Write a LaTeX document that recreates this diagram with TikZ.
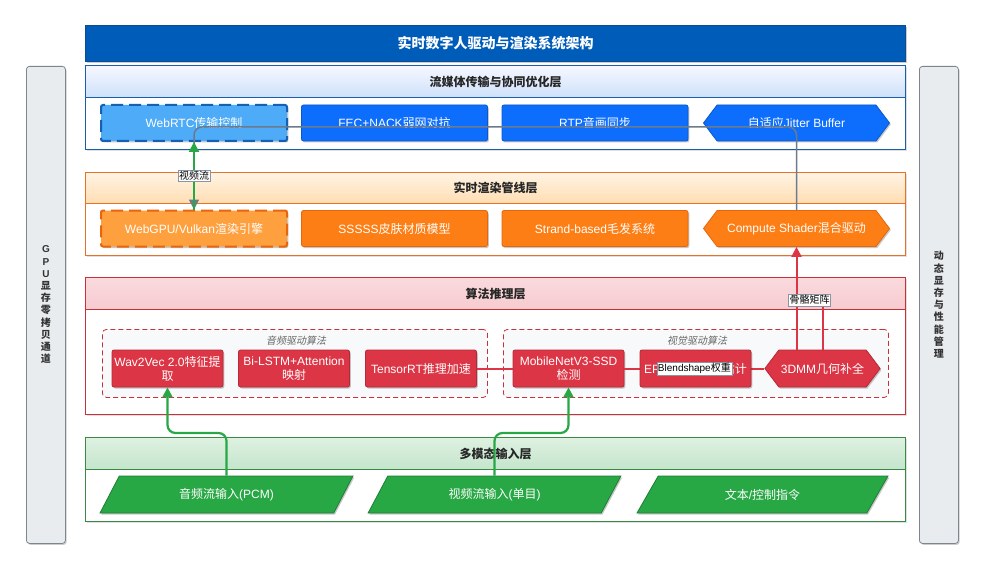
\documentclass[tikz,border=0pt]{standalone}
\usepackage{fontspec}
\setmainfont{Liberation Sans}
\newfontfamily\cjkfam{Noto Sans CJK SC}[NFSSFamily=cjk,ItalicFont=Noto Sans CJK SC,ItalicFeatures={FakeSlant=0.2}]
\XeTeXinterchartokenstate=1
\newXeTeXintercharclass\cjkcls
\count255="3000
\loop
  \XeTeXcharclass\count255=\cjkcls
  \ifnum\count255<"9FFF \advance\count255 by 1 \repeat
\count255="FF00
\loop
  \XeTeXcharclass\count255=\cjkcls
  \ifnum\count255<"FFEF \advance\count255 by 1 \repeat
\XeTeXinterchartoks 0 \cjkcls = {\fontfamily{cjk}\selectfont}
\XeTeXinterchartoks 4095 \cjkcls = {\fontfamily{cjk}\selectfont}
\XeTeXinterchartoks \cjkcls 0 = {\fontfamily{\familydefault}\selectfont}
\XeTeXinterchartoks \cjkcls 4095 = {\fontfamily{\familydefault}\selectfont}
\usetikzlibrary{shapes.geometric,shapes.symbols,arrows.meta,shadows,calc}
\definecolor{cTitle}{HTML}{005CB9}
\definecolor{cTitleD}{HTML}{0B4C94}
\definecolor{cB}{HTML}{0D6EFD}
\definecolor{cBD}{HTML}{0A58CA}
\definecolor{cBL}{HTML}{4DABF7}
\definecolor{cBDash}{HTML}{1360B4}
\definecolor{cO}{HTML}{FD7E14}
\definecolor{cOD}{HTML}{E8650C}
\definecolor{cOL}{HTML}{FFA03F}
\definecolor{cR}{HTML}{DC3545}
\definecolor{cRD}{HTML}{B52A37}
\definecolor{cG}{HTML}{28A745}
\definecolor{cGD}{HTML}{1E7E34}
\definecolor{cL1}{HTML}{1A5DAB}
\definecolor{cL2}{HTML}{E8712A}
\definecolor{cL3}{HTML}{C8313A}
\definecolor{cL4}{HTML}{3A8A45}
\definecolor{cSide}{HTML}{E9ECEF}
\definecolor{cSideD}{HTML}{7D868F}
\definecolor{cGray}{HTML}{6B7B8C}
\definecolor{cGrp}{HTML}{F8F9FA}
\begin{document}
\begin{tikzpicture}[x=1pt,y=-1pt,
  shad/.style={drop shadow={shadow xshift=1.3pt,shadow yshift=-1.5pt,opacity=0.22,fill=black}},
  nodetxt/.style={text=white,font=\fontsize{12}{14}\selectfont,align=center,inner sep=2pt},
  bigbox/.style={rectangle,rounded corners=2pt,minimum width=186pt,minimum height=36pt,line width=0.8pt,shad,nodetxt},
  hexbig/.style={signal,signal to=east and west,signal pointer angle=106,minimum width=186pt,minimum height=36pt,line width=0.8pt,shad,nodetxt},
  smallbox/.style={rectangle,rounded corners=2pt,minimum width=111pt,minimum height=37pt,line width=0.8pt,fill=cR,draw=cRD,shad,nodetxt},
  hexsmall/.style={signal,signal to=east and west,signal pointer angle=106,minimum width=111pt,minimum height=37pt,line width=0.8pt,fill=cR,draw=cRD,shad,nodetxt},
  para/.style={trapezium,trapezium left angle=62,trapezium right angle=118,trapezium stretches=true,minimum width=253pt,minimum height=37pt,fill=cG,draw=cGD,line width=0.8pt,shad,nodetxt},
  layerbody/.style={rectangle,fill=white,line width=1pt,minimum width=820pt,anchor=north west,inner sep=0pt,drop shadow={shadow xshift=1.5pt,shadow yshift=-1.5pt,opacity=0.12,fill=black}},
  layerhead/.style={rectangle,line width=1pt,minimum width=820pt,minimum height=32pt,anchor=north west,inner sep=0pt,font=\bfseries\fontsize{12}{14}\selectfont,text=black!85},
  side/.style={rectangle,rounded corners=3pt,fill=cSide,draw=cSideD,line width=0.8pt,minimum width=39pt,minimum height=477pt,anchor=north west,inner sep=0pt,font=\bfseries\fontsize{10}{12.2}\selectfont,align=center,text=black!80,drop shadow={shadow xshift=1.3pt,shadow yshift=-1.5pt,opacity=0.2,fill=black}},
  grp/.style={rectangle,rounded corners=4pt,fill=cGrp,draw=cL3,dash pattern=on 5pt off 3pt,line width=0.8pt,anchor=north west,inner sep=0pt},
  grplbl/.style={font=\itshape\fontsize{10}{12}\selectfont,text=black!60,inner sep=0pt},
  lbl/.style={fill=white,draw=cGray!80,line width=0.5pt,inner sep=1.2pt,font=\fontsize{10}{11}\selectfont,text=black},
  grayln/.style={draw=cGray,line width=1.5pt},
  greenln/.style={draw=cG,line width=2.2pt},
  redln/.style={draw=cR,line width=2pt},
  tip/.style={-{Triangle[length=10pt,width=10pt]}}
]
\path[use as bounding box,fill=white] (0,0) rectangle (987,572);

% title
\node[rectangle,fill=cTitle,draw=cTitleD,line width=1pt,minimum width=820pt,minimum height=36pt,anchor=north west,inner sep=0pt,text=white,font=\bfseries\fontsize{14}{16}\selectfont,drop shadow={shadow xshift=1.5pt,shadow yshift=-1.5pt,opacity=0.2,fill=black}] (title) at (85,25) {实时数字人驱动与渲染系统架构};

% side panels
\node[side] (gpu) at (26,66) {G\\P\\U\\显\\存\\零\\拷\\贝\\通\\道};
\node[side] (mem) at (919,66) {动\\态\\显\\存\\与\\性\\能\\管\\理};

% layer 1
\node[layerbody,draw=cL1,minimum height=84pt] (L1) at (85,65) {};
\node[layerhead,draw=cL1,top color=blue!3!white,bottom color={rgb,255:red,205;green,225;blue,250}] (H1) at (85,65) {流媒体传输与协同优化层};
% layer 2
\node[layerbody,draw=cL2,minimum height=83pt] (L2) at (85,172) {};
\node[layerhead,draw=cL2,top color={rgb,255:red,255;green,244;blue,228},bottom color={rgb,255:red,255;green,221;blue,178},minimum height=31pt] (H2) at (85,172) {实时渲染管线层};
% layer 3
\node[layerbody,draw=cL3,minimum height=137pt] (L3) at (85,277) {};
\node[layerhead,draw=cL3,top color={rgb,255:red,250;green,218;blue,221},bottom color={rgb,255:red,246;green,203;blue,208}] (H3) at (85,277) {算法推理层};
% layer 4
\node[layerbody,draw=cL4,minimum height=84pt] (L4) at (85,437) {};
\node[layerhead,draw=cL4,top color={rgb,255:red,222;green,241;blue,225},bottom color={rgb,255:red,196;green,229;blue,204}] (H4) at (85,437) {多模态输入层};

% groups
\node[grp,minimum width=385pt,minimum height=68pt] (gaudio) at (102,329) {};
\node[grp,minimum width=385pt,minimum height=68pt] (gvisual) at (503,329) {};
\node[grplbl] (gaudiolbl) at (296,341) {音频驱动算法};
\node[grplbl] (gvisuallbl) at (697,341) {视觉驱动算法};

% row 1
\node[bigbox,fill=cBL,draw=cBDash,line width=2pt,dash pattern=on 12pt off 6pt] (webrtc) at (194,123) {WebRTC传输控制};
\node[bigbox,fill=cB,draw=cBD] (fec) at (394.5,123) {FEC+NACK弱网对抗};
\node[bigbox,fill=cB,draw=cBD] (rtp) at (595,123) {RTP音画同步};
\node[hexbig,fill=cB,draw=cBD] (jitter) at (796.5,123) {自适应Jitter Buffer};

% row 2
\node[bigbox,fill=cOL,draw=cOD,line width=2pt,dash pattern=on 12pt off 6pt] (webgpu) at (194,228.5) {WebGPU/Vulkan渲染引擎};
\node[bigbox,fill=cO,draw=cOD] (sss) at (394.5,228.5) {SSSSS皮肤材质模型};
\node[bigbox,fill=cO,draw=cOD] (hair) at (595,228.5) {Strand-based毛发系统};
\node[hexbig,fill=cO,draw=cOD] (cs) at (796.5,228.5) {Compute Shader混合驱动};

% row 3
\node[smallbox] (wav) at (167.5,368.5) {Wav2Vec 2.0特征提\\取};
\node[smallbox] (lstm) at (294,368.5) {Bi-LSTM+Attention\\映射};
\node[smallbox] (trt) at (421,368.5) {TensorRT推理加速};
\node[smallbox] (mob) at (568.5,368.5) {MobileNetV3-SSD\\检测};
\node[hexsmall] (dmm) at (822.5,368.5) {3DMM几何补全};
\draw[redln] (mob.east) -- (dmm.west);
\node[smallbox] (epnp) at (695.5,368.5) {EPnP头部姿态估计};
\node[lbl] (bslbl) at ($(mob.east)!0.5!(dmm.west)$) {Blendshape权重};

% row 4
\node[para] (audio) at (226.5,494.5) {音频流输入(PCM)};
\node[para] (video) at (494.5,494.5) {视频流输入(单目)};
\node[para] (text) at (762.5,494.5) {文本/控制指令};

% connectors
\coordinate (gy1) at (0,127);
\coordinate (gy2) at (0,433);
\coordinate (ry) at (0,300);
\draw[grayln,rounded corners=8pt,tip] (cs.north) |- (webgpu.north |- gy1) -- (webgpu.north);
\draw[greenln,tip] (webgpu.north) -- node[lbl] (vlbl) {视频流} (webrtc.south);
\draw[redln] (trt.east) -- (mob.west);
\draw[redln,tip] (cs.south |- dmm.north) -- (cs.south);
\draw[redln] (dmm.north) -- (dmm.north |- ry);
\node[lbl] (bonelbl) at ($(dmm.north |- ry)!0.5!(cs.south |- ry)$) {骨骼矩阵};
\draw[greenln,rounded corners=8pt,tip] (audio.north) -- (audio.north |- gy2) -| (wav.south);
\draw[greenln,rounded corners=8pt,tip] (video.north) -- (video.north |- gy2) -| (mob.south);
\end{tikzpicture}
\end{document}
